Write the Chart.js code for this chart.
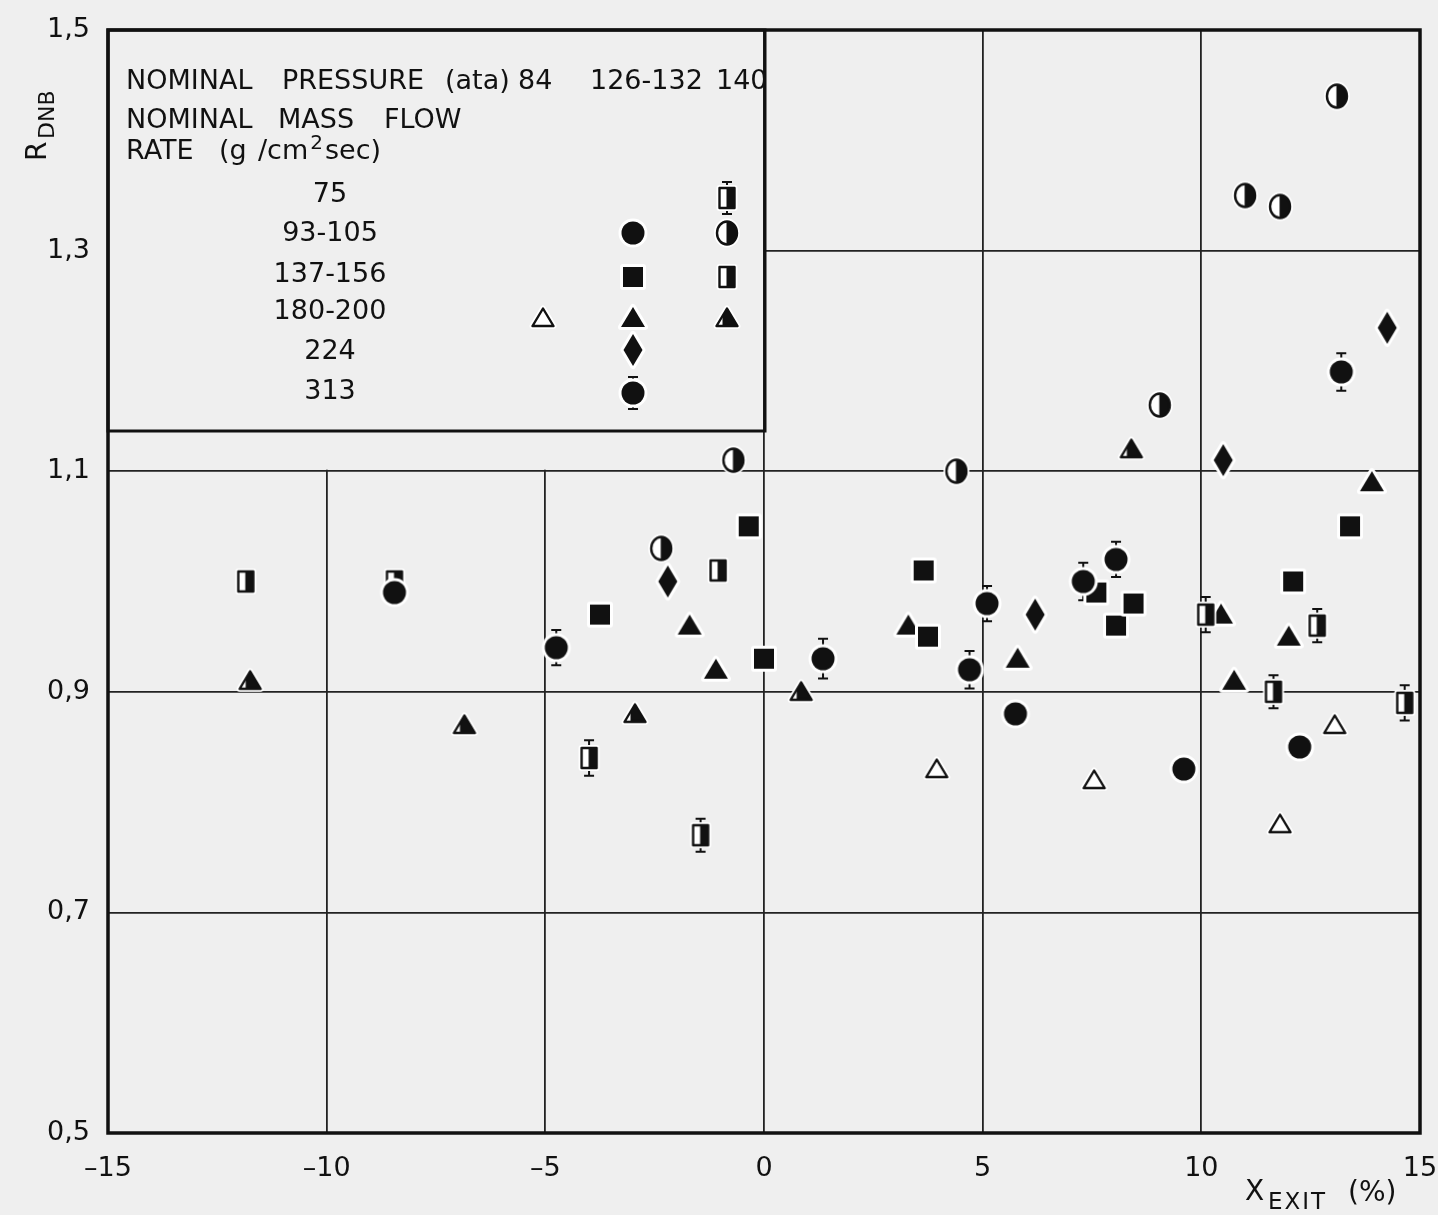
<!DOCTYPE html>
<html>
<head>
<meta charset="utf-8">
<script src="https://cdn.jsdelivr.net/npm/chart.js@4"></script>
<style>
  html, body { margin: 0; padding: 0; background: #efefef; }
  #c { display: block; }
</style>
</head>
<body>
<canvas id="c" width="1438" height="1215"></canvas>
<script>
// R_DNB against exit quality, grouped by nominal pressure and nominal mass flow rate

const xTicks = [-15, -10, -5, 0, 5, 10, 15];
const yTicks = [0.5, 0.7, 0.9, 1.1, 1.3, 1.5];

const pressureLabels = ['84', '126-132', '140'];
const flowLabels = ['75', '93-105', '137-156', '180-200', '224', '313'];

// 84 ata, 180-200 g/cm2 sec
const p84_g180_x = [3.95, 7.55, 11.8, 13.05];
const p84_g180_y = [0.83, 0.82, 0.78, 0.87];

// 126-132 ata, 93-105 g/cm2 sec
const p126_g93_x = [-8.45, 5.75, 9.6, 12.25];
const p126_g93_y = [0.99, 0.88, 0.83, 0.85];

// 126-132 ata, 137-156 g/cm2 sec
const p126_g137_x = [-3.75, -0.35, 0.0, 3.65, 3.75, 7.6, 8.05, 8.45, 12.1, 13.4];
const p126_g137_y = [0.97, 1.05, 0.93, 1.01, 0.95, 0.99, 0.96, 0.98, 1.00, 1.05];

// 126-132 ata, 180-200 g/cm2 sec
const p126_g180_x = [-1.7, -1.1, 3.3, 5.8, 10.45, 10.75, 12.0, 13.9];
const p126_g180_y = [0.96, 0.92, 0.96, 0.93, 0.97, 0.91, 0.95, 1.09];

// 126-132 ata, 224 g/cm2 sec
const p126_g224_x = [-2.2, 6.2, 10.5, 14.25];
const p126_g224_y = [1.00, 0.97, 1.11, 1.23];

// 126-132 ata, 313 g/cm2 sec (with scatter band)
const p126_g313_x = [-4.75, 1.35, 4.7, 5.1, 7.3, 8.05, 13.2];
const p126_g313_y = [0.94, 0.93, 0.92, 0.98, 1.00, 1.02, 1.19];
const p126_g313_err = [0.016, 0.018, 0.017, 0.016, 0.017, 0.016, 0.017];

// 140 ata, 75 g/cm2 sec (with scatter band)
const p140_g75_x = [-4.0, -1.45, 10.1, 11.65, 12.65, 14.65];
const p140_g75_y = [0.84, 0.77, 0.97, 0.90, 0.96, 0.89];
const p140_g75_err = [0.016, 0.015, 0.016, 0.015, 0.015, 0.016];

// 140 ata, 93-105 g/cm2 sec
const p140_g93_x = [-2.35, -0.7, 4.4, 9.05, 11.0, 11.8, 13.1];
const p140_g93_y = [1.03, 1.11, 1.10, 1.16, 1.35, 1.34, 1.44];

// 140 ata, 137-156 g/cm2 sec
const p140_g137_x = [-11.85, -8.45, -1.05];
const p140_g137_y = [1.00, 1.00, 1.01];

// 140 ata, 180-200 g/cm2 sec
const p140_g180_x = [-11.75, -6.85, -2.95, 0.85, 8.4];
const p140_g180_y = [0.91, 0.87, 0.88, 0.90, 1.12];

const FONT = '"DejaVu Sans", "Liberation Sans", Arial, sans-serif';
const FS = 27;
const BG = '#efefef';
const INK = '#111';

// Marker glyphs drawn once into small canvases and used as point styles
function makeMarker(kind) {
  const W = 36, H = 40;
  const c = document.createElement('canvas');
  c.width = W; c.height = H;
  const g = c.getContext('2d');
  const cx = W / 2, cy = H / 2;
  g.lineJoin = 'round';
  let path;
  switch (kind) {
    case 'circle':
      path = () => { g.beginPath(); g.arc(cx, cy, 11.5, 0, 2 * Math.PI); }; break;
    case 'halfCircle':
      path = () => { g.beginPath(); g.ellipse(cx, cy, 10, 11.5, 0, 0, 2 * Math.PI); }; break;
    case 'square':
      path = () => { g.beginPath(); g.rect(cx - 10, cy - 10, 20, 20); }; break;
    case 'halfSquare':
      path = () => { g.beginPath(); g.rect(cx - 7.5, cy - 10, 15, 20); }; break;
    case 'triangle':
      path = () => { g.beginPath(); g.moveTo(cx, cy - 11); g.lineTo(cx + 12, cy + 9); g.lineTo(cx - 12, cy + 9); g.closePath(); }; break;
    case 'openTriangle':
    case 'halfTriangle':
      path = () => { g.beginPath(); g.moveTo(cx, cy - 9.5); g.lineTo(cx + 10.5, cy + 8); g.lineTo(cx - 10.5, cy + 8); g.closePath(); }; break;
    case 'diamond':
      path = () => { g.beginPath(); g.moveTo(cx, cy - 16); g.lineTo(cx + 9.5, cy); g.lineTo(cx, cy + 16); g.lineTo(cx - 9.5, cy); g.closePath(); }; break;
  }
  // white halo
  path(); g.strokeStyle = '#fff'; g.lineWidth = 6; g.stroke();
  const solid = ['circle', 'square', 'triangle', 'diamond'].includes(kind);
  path(); g.fillStyle = solid ? INK : '#fff'; g.fill();
  if (kind.startsWith('half')) {
    g.save(); path(); g.clip();
    g.fillStyle = INK;
    g.fillRect(cx + (kind === 'halfTriangle' ? -4.5 : -0.5), 0, W, H);
    g.restore();
  }
  if (!solid) { path(); g.strokeStyle = INK; g.lineWidth = 2.4; g.stroke(); }
  return c;
}

const M = {
  circle: makeMarker('circle'),
  halfCircle: makeMarker('halfCircle'),
  square: makeMarker('square'),
  halfSquare: makeMarker('halfSquare'),
  triangle: makeMarker('triangle'),
  openTriangle: makeMarker('openTriangle'),
  halfTriangle: makeMarker('halfTriangle'),
  diamond: makeMarker('diamond')
};

function pts(xs, ys) { return xs.map((x, i) => ({ x: x, y: ys[i] })); }

function series(label, xs, ys, marker, err) {
  return {
    label: label,
    data: pts(xs, ys),
    pointStyle: M[marker],
    pointRadius: 10,
    pointHoverRadius: 10,
    showLine: false,
    clip: false,
    errors: err || null
  };
}

const datasets = [
  series('140 ata, 75', p140_g75_x, p140_g75_y, 'halfSquare', p140_g75_err),
  series('126-132 ata, 313', p126_g313_x, p126_g313_y, 'circle', p126_g313_err),
  series('84 ata, 180-200', p84_g180_x, p84_g180_y, 'openTriangle'),
  series('126-132 ata, 93-105', p126_g93_x, p126_g93_y, 'circle'),
  series('126-132 ata, 137-156', p126_g137_x, p126_g137_y, 'square'),
  series('126-132 ata, 180-200', p126_g180_x, p126_g180_y, 'triangle'),
  series('126-132 ata, 224', p126_g224_x, p126_g224_y, 'diamond'),
  series('140 ata, 93-105', p140_g93_x, p140_g93_y, 'halfCircle'),
  series('140 ata, 137-156', p140_g137_x, p140_g137_y, 'halfSquare'),
  series('140 ata, 180-200', p140_g180_x, p140_g180_y, 'halfTriangle')
];

function whisker(ctx, x, y1, y2) {
  ctx.beginPath();
  ctx.moveTo(x, y1); ctx.lineTo(x, y2);
  ctx.moveTo(x - 5, y1); ctx.lineTo(x + 5, y1);
  ctx.moveTo(x - 5, y2); ctx.lineTo(x + 5, y2);
  ctx.stroke();
}

function put(ctx, s, x, y, size, align) {
  ctx.font = size + 'px ' + FONT;
  ctx.textAlign = align || 'left';
  ctx.textBaseline = 'middle';
  ctx.fillText(s, x, y);
  return x + ctx.measureText(s).width;
}

// scale paddings are zeroed so the plot area follows layout.padding exactly
function noScalePadding(s) {
  s.paddingLeft = 0; s.paddingRight = 0; s.paddingTop = 0; s.paddingBottom = 0;
}

const framePlugin = {
  id: 'frame',
  beforeDatasetsDraw(chart) {
    const ctx = chart.ctx, a = chart.chartArea;
    const xs = chart.scales.x, ys = chart.scales.y;
    const x0 = xs.getPixelForValue(0);
    const y11 = ys.getPixelForValue(1.1);
    ctx.save();
    // keep the grid clear behind the key
    ctx.fillStyle = BG;
    ctx.fillRect(a.left, a.top, x0 - a.left - 1, y11 - a.top - 1.5);
    // key box
    ctx.strokeStyle = INK;
    ctx.lineWidth = 3;
    ctx.strokeRect(a.left, a.top, x0 - a.left + 1, 401);
    // plot frame
    ctx.lineWidth = 3.5;
    ctx.strokeRect(a.left, a.top, a.right - a.left, a.bottom - a.top);
    // scatter bands
    ctx.lineWidth = 2;
    chart.data.datasets.forEach((ds, i) => {
      if (!ds.errors) return;
      const meta = chart.getDatasetMeta(i);
      meta.data.forEach((el, j) => {
        const v = ds.data[j].y, e = ds.errors[j];
        whisker(ctx, el.x, ys.getPixelForValue(v + e), ys.getPixelForValue(v - e));
      });
    });
    ctx.restore();
  },
  afterDatasetsDraw(chart) {
    const ctx = chart.ctx, a = chart.chartArea;
    const L = a.left, T = a.top;
    ctx.save();
    ctx.fillStyle = INK;
    // key header
    put(ctx, 'NOMINAL', L + 18, T + 52, FS);
    put(ctx, 'PRESSURE', L + 174, T + 52, FS);
    put(ctx, '(ata)', L + 337, T + 52, FS);
    put(ctx, pressureLabels[0], L + 410, T + 52, FS);
    put(ctx, pressureLabels[1], L + 482, T + 52, FS);
    put(ctx, pressureLabels[2], L + 608, T + 52, FS);
    put(ctx, 'NOMINAL', L + 18, T + 91, FS);
    put(ctx, 'MASS', L + 170, T + 91, FS);
    put(ctx, 'FLOW', L + 276, T + 91, FS);
    put(ctx, 'RATE', L + 18, T + 122, FS);
    put(ctx, '(g', L + 111, T + 122, FS);
    let e = put(ctx, '/cm', L + 150, T + 122, FS);
    e = put(ctx, '2', e + 2, T + 114, 20);
    put(ctx, 'sec)', e + 2, T + 122, FS);
    // key rows
    const rowY = [165, 204, 245, 282, 322, 362];
    flowLabels.forEach((s, i) => put(ctx, s, L + 222, T + rowY[i], FS, 'center'));
    const colX = [435, 525, 619].map(v => L + v);
    const mY = [168, 203, 247, 288, 320, 363].map(v => T + v);
    const place = (img, x, y) => ctx.drawImage(img, x - img.width / 2, y - img.height / 2);
    ctx.strokeStyle = INK; ctx.lineWidth = 2;
    whisker(ctx, colX[2], mY[0] - 16, mY[0] + 16);
    place(M.halfSquare, colX[2], mY[0]);
    place(M.circle, colX[1], mY[1]);
    place(M.halfCircle, colX[2], mY[1]);
    place(M.square, colX[1], mY[2]);
    place(M.halfSquare, colX[2], mY[2]);
    place(M.openTriangle, colX[0], mY[3]);
    place(M.triangle, colX[1], mY[3]);
    place(M.halfTriangle, colX[2], mY[3]);
    place(M.diamond, colX[1], mY[4]);
    whisker(ctx, colX[1], mY[5] - 16, mY[5] + 16);
    place(M.circle, colX[1], mY[5]);
    ctx.restore();
  },
  afterDraw(chart) {
    const ctx = chart.ctx;
    ctx.save();
    ctx.fillStyle = INK;
    ctx.textBaseline = 'alphabetic';
    ctx.textAlign = 'left';
    // y-axis title R_DNB, reading upward
    ctx.save();
    ctx.translate(46, 161);
    ctx.rotate(-Math.PI / 2);
    ctx.font = '28px ' + FONT;
    ctx.fillText('R', 0, 0);
    ctx.font = '22px ' + FONT;
    ctx.fillText('DNB', 22, 8);
    ctx.restore();
    // x-axis title X_EXIT (%)
    ctx.font = '28px ' + FONT;
    ctx.fillText('X', 1245, 1200);
    ctx.font = '23px ' + FONT;
    ctx.letterSpacing = '2px';
    ctx.fillText('EXIT', 1268, 1209);
    ctx.letterSpacing = '0px';
    ctx.font = '28px ' + FONT;
    ctx.fillText('(%)', 1348, 1201);
    ctx.restore();
  }
};

new Chart(document.getElementById('c'), {
  type: 'scatter',
  data: { datasets: datasets },
  options: {
    responsive: false,
    animation: false,
    events: [],
    layout: { padding: { top: 30, right: 18, left: 0, bottom: 0 } },
    plugins: { legend: { display: false }, tooltip: { enabled: false } },
    scales: {
      x: {
        type: 'linear',
        min: -15, max: 15,
        afterBuildTicks: s => { s.ticks = xTicks.map(v => ({ value: v })); },
        afterFit: s => { s.height = 82; noScalePadding(s); },
        grid: { color: '#222', lineWidth: 1.8, drawTicks: false },
        border: { display: false },
        ticks: {
          padding: 20,
          color: INK,
          font: { family: FONT, size: FS },
          maxRotation: 0,
          autoSkip: false,
          callback: v => (v < 0 ? '\u2013' + Math.abs(v) : String(v))
        }
      },
      y: {
        type: 'linear',
        min: 0.5, max: 1.5,
        afterBuildTicks: s => { s.ticks = yTicks.map(v => ({ value: v })); },
        afterFit: s => { s.width = 108; noScalePadding(s); },
        grid: { color: '#222', lineWidth: 1.8, drawTicks: false },
        border: { display: false },
        ticks: {
          padding: 18,
          color: INK,
          font: { family: FONT, size: FS },
          autoSkip: false,
          callback: v => Number(v).toFixed(1).replace('.', ',')
        }
      }
    }
  },
  plugins: [framePlugin]
});
</script>
</body>
</html>
